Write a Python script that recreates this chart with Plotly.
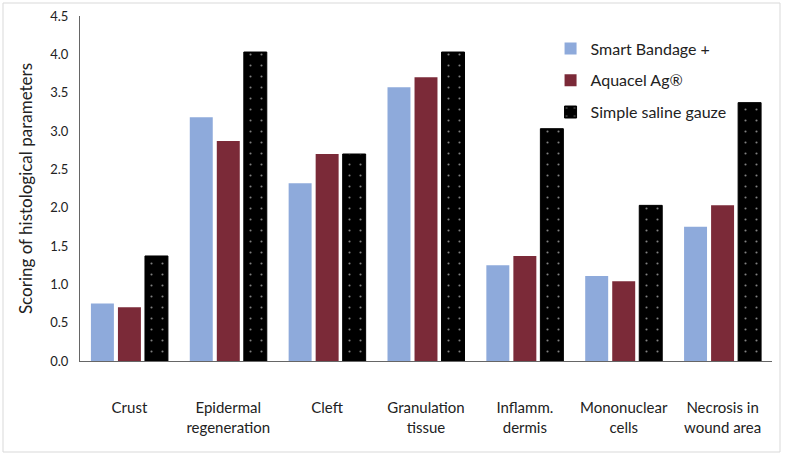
import plotly.graph_objects as go

categories = ["Crust", "Epidermal<br>regeneration", "Cleft", "Granulation<br>tissue",
              "Inflamm.<br>dermis", "Mononuclear<br>cells", "Necrosis in<br>wound area"]
smart_bandage = [0.75, 3.18, 2.32, 3.57, 1.25, 1.11, 1.75]
aquacel = [0.70, 2.87, 2.70, 3.70, 1.37, 1.04, 2.03]
saline = [1.37, 4.03, 2.70, 4.03, 3.03, 2.03, 3.37]
y_ticks = [0.0, 0.5, 1.0, 1.5, 2.0, 2.5, 3.0, 3.5, 4.0, 4.5]

font = "Lato, 'Open Sans', sans-serif"

fig = go.Figure()
fig.add_trace(go.Bar(x=categories, y=smart_bandage, name="Smart Bandage +",
                     marker=dict(color="#8eaadb", line=dict(width=0)), legendgroup="a"))
fig.add_trace(go.Bar(x=categories, y=aquacel, name="Aquacel Ag®",
                     marker=dict(color="#7b2a38", line=dict(width=0)), legendgroup="b"))
fig.add_trace(go.Bar(x=categories, y=saline, name="Simple saline gauze",
                     marker=dict(color="black", line=dict(width=1, color="black"),
                                 pattern=dict(shape=".", fgcolor="white", bgcolor="black",
                                              size=11, solidity=0.03)),
                     legendgroup="c"))

fig.update_layout(
    width=785, height=459,
    paper_bgcolor="white", plot_bgcolor="white",
    margin=dict(l=80, r=13, t=16, b=98, autoexpand=False),
    barmode="group", bargap=0.18, bargroupgap=0.15,
    font=dict(family=font, size=13, color="#222"),
    showlegend=True,
    legend=dict(x=0.68, y=0.955, xanchor="left", yanchor="top",
                font=dict(size=16, color="#222"), bgcolor="rgba(0,0,0,0)",
                tracegroupgap=8, itemwidth=30),
    xaxis=dict(showline=True, linecolor="#666", linewidth=1, ticks="",
               tickfont=dict(size=15), showgrid=False, automargin=False,
               ticklabelstandoff=33),
    yaxis=dict(range=[0, 4.5], tickvals=y_ticks, ticktext=[f"{v:.1f}" for v in y_ticks],
               showline=True, linecolor="#666", linewidth=1, showgrid=False,
               ticks="", tickfont=dict(size=13), zeroline=False, automargin=False,
               ticklabelstandoff=8,
               title=dict(text="Scoring of histological parameters", font=dict(size=17), standoff=13)),
    shapes=[dict(type="rect", xref="paper", yref="paper",
                 x0=-77/692, x1=1 + 8/692, y0=-91/345, y1=1 + 13/345,
                 line=dict(color="#d9d9d9", width=1), fillcolor="rgba(0,0,0,0)", layer="below")],
)

fig.write_html("out.html", post_script="document.body.style.margin='0';",
               config={"displayModeBar": False})
